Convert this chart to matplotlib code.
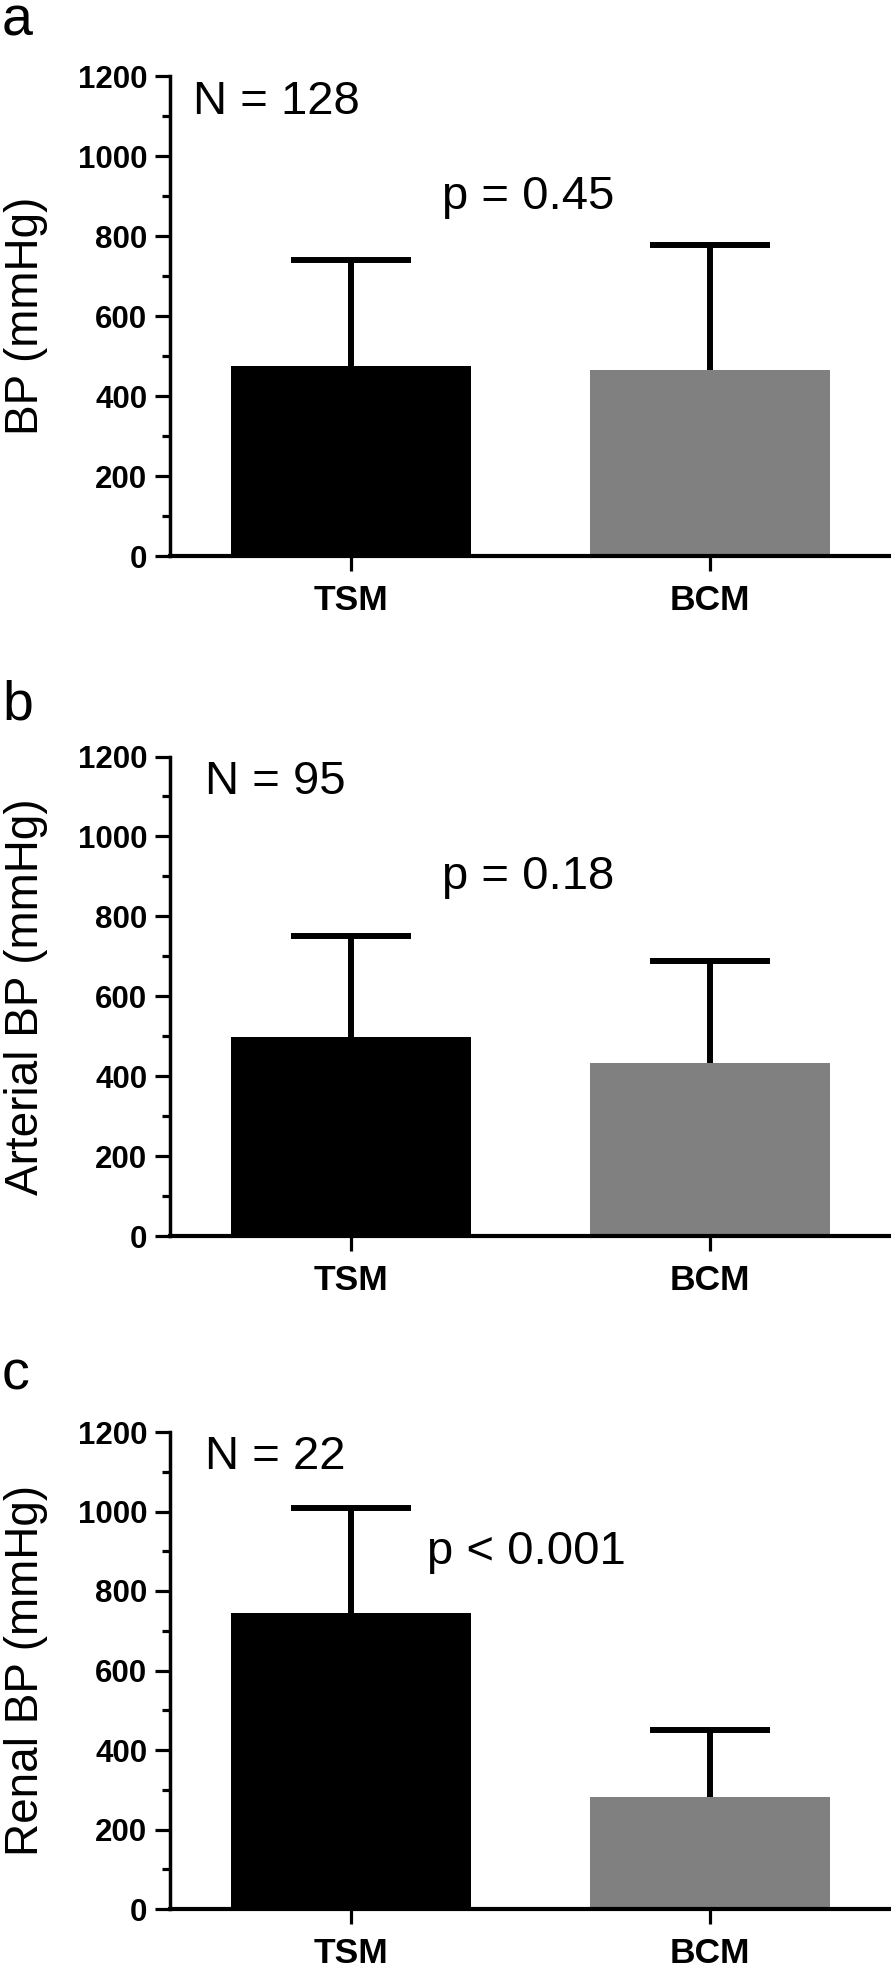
import matplotlib
matplotlib.use("Agg")
from matplotlib import pyplot as plt
from matplotlib.ticker import MultipleLocator

plt.rcParams['font.family'] = ['Liberation Sans', 'DejaVu Sans']

groups = ["TSM", "BCM"]
bar_colors = ["black", "#808080"]

# mean values and upper SD for each panel
bp_mean = [476, 466]
bp_sd = [264, 313]
arterial_mean = [498, 434]
arterial_sd = [254, 254]
renal_mean = [744, 283]
renal_sd = [264, 168]

panel_letters = ["a", "b", "c"]
y_labels = ["BP (mmHg)", "Arterial BP (mmHg)", "Renal BP (mmHg)"]
n_texts = ["N = 128", "N = 95", "N = 22"]
p_texts = ["p = 0.45", "p = 0.18", "p < 0.001"]

means = [bp_mean, arterial_mean, renal_mean]
sds = [bp_sd, arterial_sd, renal_sd]

fig = plt.figure(figsize=(8.91, 19.67), dpi=100)

W, H = 891.0, 1967.0
# axes top / bottom in pixels for each panel
tops = [76.5, 756.5, 1432]
bottoms = [556, 1236, 1909]
letter_base = [35, 719, 1390]
n_x = [-0.44, -0.407, -0.407]
p_x = [0.253, 0.253, 0.212]

for i in range(3):
    ax = fig.add_axes([170 / W, 1 - bottoms[i] / H, 721 / W, (bottoms[i] - tops[i]) / H])
    xs = range(len(groups))
    ax.bar(xs, means[i], width=0.666, color=bar_colors, edgecolor="none", zorder=2)
    # only the upper half of the error bar, so hide the lower cap
    eb = ax.errorbar(xs, means[i], yerr=[[0, 0], sds[i]], fmt="none", ecolor="black",
                     elinewidth=4.3, capsize=43, capthick=4.3, zorder=3)
    eb[1][0].set_visible(False)

    ax.set_xlim(-0.504, 1.504)
    ax.set_ylim(0, 1200)
    ax.set_xticks(list(xs))
    ax.set_xticklabels(groups, fontsize=25.5, fontweight="bold")
    ax.set_yticks(range(0, 1201, 200))
    ax.yaxis.set_minor_locator(MultipleLocator(100))
    for lab in ax.get_yticklabels():
        lab.set_fontsize(22.5)
        lab.set_fontweight("bold")

    ax.spines["top"].set_visible(False)
    ax.spines["right"].set_visible(False)
    ax.spines["left"].set_linewidth(2.5)
    ax.spines["bottom"].set_linewidth(3)
    ax.spines["bottom"].set_clip_on(False)
    ax.tick_params(axis="y", which="major", length=10.8, width=2.3, pad=5.5)
    ax.tick_params(axis="y", which="minor", length=5.8, width=2.3)
    ax.tick_params(axis="x", which="major", length=10.8, width=2.3, pad=9)

    ax.set_ylabel(y_labels[i], fontsize=33)
    ax.yaxis.set_label_coords(-0.169, 0.5)

    ax.text(n_x[i], 1106, n_texts[i], fontsize=34, va="baseline", ha="left")
    ax.text(p_x[i], 868, p_texts[i], fontsize=34, va="baseline", ha="left")

    fig.text(2 / W, 1 - letter_base[i] / H, panel_letters[i], fontsize=40,
             va="baseline", ha="left")

plt.savefig("out.png", dpi=100)
